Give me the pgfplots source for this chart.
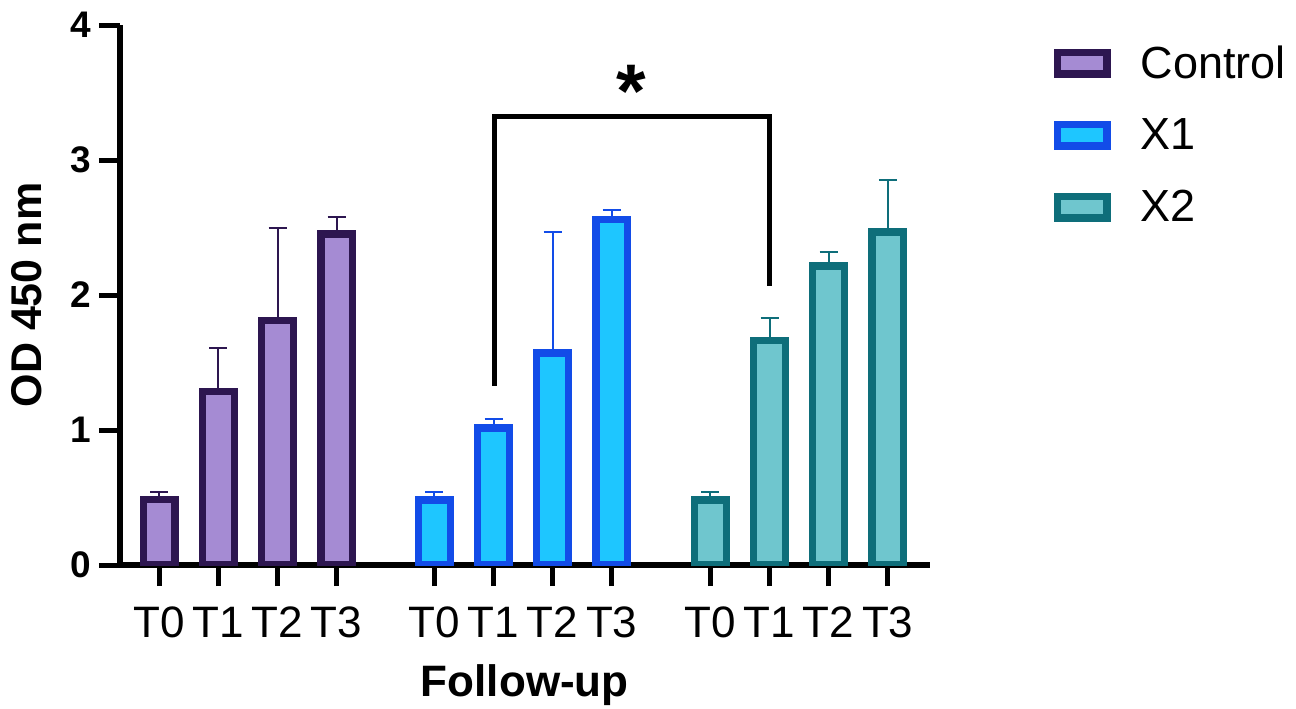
\documentclass[border=0pt]{standalone}
\usepackage{pgfplots}
\pgfplotsset{compat=1.18}
\usepackage{fontspec}
\setmainfont{Liberation Sans}
\definecolor{cF}{HTML}{A58BD3}
\definecolor{cE}{HTML}{2D1650}
\definecolor{aF}{HTML}{1EC6FF}
\definecolor{aE}{HTML}{124CE8}
\definecolor{bF}{HTML}{6FC6CE}
\definecolor{bE}{HTML}{0E6E7A}
\pgfplotstableread{
x y e
0 0.485 0.056
1 1.285 0.320
2 1.811 0.688
3 2.453 0.127
}\ctrl
\pgfplotstableread{
x y e
4.653 0.483 0.060
5.653 1.016 0.068
6.653 1.572 0.892
7.653 2.559 0.071
}\xone
\pgfplotstableread{
x y e
9.322 0.483 0.060
10.322 1.663 0.169
11.322 2.214 0.102
12.322 2.466 0.388
}\xtwo
\pgfplotsset{
 boxlegend/.style={legend image code/.code={
   \path[draw=none, fill=none] (0pt,-18pt) rectangle (24.75pt,18pt);
   \draw[##1, line width=3.75pt] (0pt,-5.375pt) rectangle (24.75pt,5.375pt);}},
 mybar/.style 2 args={ybar, bar width=0.538, bar shift=0, draw=#1, fill=#2,
   line width=3.75pt, forget plot,
   error bars/.cd, y dir=plus, y explicit,
   error bar style={line width=1pt, draw=#1, solid},
   error mark options={rotate=90, mark size=4.5pt, line width=1pt, draw=#1}}
}
\begin{document}
\begin{tikzpicture}
\useasboundingbox (0,0) rectangle (648pt,354pt);
\begin{axis}[
 at={(60pt,71.5pt)}, anchor=south west,
 scale only axis, width=404.8pt, height=270pt,
 xmin=-0.665, xmax=13.03, ymin=0, ymax=4,
 axis lines*=left,
 axis line style={line width=2.75pt, black},
 tick style={line width=2.5pt, black},
 tick align=outside, major tick length=10.5pt,
 minor tick num=0,
 ytick={0,1,2,3,4},
 xtick={0,1,2,3,4.653,5.653,6.653,7.653,9.322,10.322,11.322,12.322},
 xticklabels={T0,T1,T2,T3,T0,T1,T2,T3,T0,T1,T2,T3},
 /pgf/number format/assume math mode=true,
 yticklabel style={font=\fontsize{18.5}{22}\selectfont\bfseries, anchor=east, inner sep=0pt, xshift=-4pt},
 xticklabel style={font=\fontsize{22}{26}\selectfont, anchor=base, inner sep=0pt, yshift=-25.5pt},
 xlabel={Follow-up},
 xlabel style={at={(axis description cs:0.5,-0.2444)}, anchor=base, inner sep=0pt, font=\fontsize{22}{26}\selectfont\bfseries},
 ylabel={OD 450 nm},
 ylabel style={at={(axis description cs:-0.1149,0.5)}, anchor=center, inner sep=0pt, font=\fontsize{21.5}{26}\selectfont\bfseries},
 legend cell align=left,
 legend style={at={(1.1533,0.9957)}, anchor=north west, draw=none, fill=none,
   inner sep=0pt, outer sep=0pt, row sep=0pt, column sep=15pt,
   nodes={inner sep=0pt, font=\fontsize{22.5}{26}\selectfont}},
]
\addlegendimage{boxlegend, draw=cE, fill=cF}
\addlegendentry{Control}
\addlegendimage{boxlegend, draw=aE, fill=aF}
\addlegendentry{X1}
\addlegendimage{boxlegend, draw=bE, fill=bF}
\addlegendentry{X2}
\addplot[mybar={cE}{cF}] table[x=x, y=y, y error=e] {\ctrl};
\addplot[mybar={aE}{aF}] table[x=x, y=y, y error=e] {\xone};
\addplot[mybar={bE}{bF}] table[x=x, y=y, y error=e] {\xtwo};
\draw[line width=2.5pt, black] (axis cs:5.67,1.328) -- (axis cs:5.67,3.32) -- (axis cs:10.322,3.32) -- (axis cs:10.322,2.069);
\node[anchor=north, inner sep=0pt, font=\fontsize{38}{40}\selectfont\bfseries] at (axis cs:7.985,3.704) {*};
\end{axis}
\end{tikzpicture}
\end{document}
